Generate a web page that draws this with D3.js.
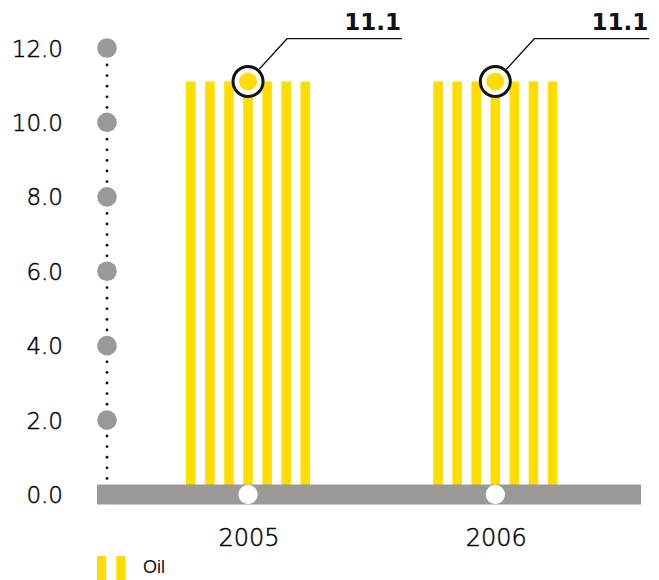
<!DOCTYPE html>
<html>
<head>
<meta charset="utf-8">
<script src="https://cdn.jsdelivr.net/npm/d3@7/dist/d3.min.js"></script>
<style>
  html, body { margin: 0; padding: 0; background: #fff; }
  svg { display: block; }
</style>
</head>
<body>
<div id="chart"></div>
<script>
// Oil figures per year
const years = ["2005", "2006"];
const oilValues = [11.1, 11.1];
const yTicks = [0, 2, 4, 6, 8, 10, 12];
const seriesName = "Oil";

const W = 659, H = 580;
const yellow = "#FFDD00";
const grey = "#9a9997";
const numFont = "'DejaVu Sans', sans-serif";

const svg = d3.select("#chart").append("svg")
  .attr("width", W).attr("height", H);

// Scales
const plotLeft = 97, plotRight = 641;
const y = d3.scaleLinear().domain([0, 12]).range([494.5, 48]);
const x = d3.scalePoint().domain(years).range([plotLeft, plotRight]).padding(0.6).align(0.509);

// Each bar is a set of seven vertical stripes
const stripeCount = 7;
const stripe = d3.scaleBand().domain(d3.range(stripeCount)).range([-62, 62]).paddingInner(0.5);

const bars = svg.append("g").selectAll("g.bar")
  .data(years.map((yr, i) => ({ year: yr, value: oilValues[i] })))
  .join("g").attr("class", "bar")
  .attr("transform", d => `translate(${x(d.year)},0)`);

bars.selectAll("rect")
  .data(d => d3.range(stripeCount).map(k => ({ k, value: d.value })))
  .join("rect")
  .attr("x", d => stripe(d.k))
  .attr("width", stripe.bandwidth())
  .attr("y", d => y(d.value))
  .attr("height", d => y(0) - y(d.value))
  .attr("fill", yellow);

// Baseline band with category markers
svg.append("rect")
  .attr("x", plotLeft).attr("width", plotRight - plotLeft)
  .attr("y", y(0) - 10).attr("height", 20)
  .attr("fill", grey);

svg.append("g").selectAll("circle")
  .data(years).join("circle")
  .attr("cx", d => x(d)).attr("cy", y(0)).attr("r", 9.7)
  .attr("fill", "#fff");

// Thin numerals, darkened with a hairline outline
function lightText(sel, size) {
  return sel.attr("font-family", numFont).attr("font-weight", 200)
    .attr("font-size", size).attr("fill", "#000")
    .attr("stroke", "#000").attr("stroke-width", 0.45);
}

// Category labels
lightText(svg.append("g").selectAll("text")
  .data(years).join("text")
  .attr("x", d => x(d) + 1).attr("y", 546)
  .attr("text-anchor", "middle"), 24)
  .text(d => d);

// Vertical dotted axis with grey tick markers
const axisX = 107;
const dotStep = 10.6;
const dotStart = y(12) + 17 - 2 * dotStep;
svg.append("g").selectAll("circle")
  .data(d3.range(dotStart, y(0) - 14, dotStep)).join("circle")
  .attr("cx", axisX).attr("cy", d => d).attr("r", 1.4)
  .attr("fill", "#111");

svg.append("g").selectAll("circle")
  .data(yTicks.filter(t => t > 0)).join("circle")
  .attr("cx", axisX).attr("cy", d => y(d)).attr("r", 9.8)
  .attr("fill", "#999");

lightText(svg.append("g").selectAll("text")
  .data(yTicks).join("text")
  .attr("x", 63).attr("y", d => y(d) + 8.5)
  .attr("text-anchor", "end"), 23)
  .text(d => d3.format(".1f")(d));

// Value callouts
const callouts = svg.append("g").selectAll("g")
  .data(years.map((yr, i) => ({ year: yr, value: oilValues[i] })))
  .join("g")
  .attr("transform", d => `translate(${x(d.year)},${y(d.value)})`);

callouts.append("path")
  .attr("d", d => {
    const topY = 38.7 - y(d.value);
    const ang = Math.atan2(topY, 39);
    const sx = 16.5 * Math.cos(ang), sy = 16.5 * Math.sin(ang);
    return `M${sx},${sy}L39,${topY}H154`;
  })
  .attr("fill", "none").attr("stroke", "#111").attr("stroke-width", 1.3);

callouts.append("circle").attr("r", 15)
  .attr("fill", "#fff").attr("stroke", "#111").attr("stroke-width", 3);
callouts.append("circle").attr("r", 9).attr("fill", yellow);

callouts.append("text")
  .attr("x", 153).attr("y", d => 29.5 - y(d.value))
  .attr("text-anchor", "end")
  .attr("font-family", numFont).attr("font-weight", "bold")
  .attr("font-size", 23).attr("fill", "#111")
  .text(d => d3.format(".1f")(d.value));

// Legend
const legend = svg.append("g").attr("transform", "translate(97,556)");
legend.selectAll("rect").data([0, 1]).join("rect")
  .attr("x", d => d * 19.3).attr("width", 9.2)
  .attr("y", 0).attr("height", 24)
  .attr("fill", yellow);
legend.append("text")
  .attr("x", 46).attr("y", 17.3)
  .attr("font-family", "'Liberation Sans', Arial, sans-serif")
  .attr("font-size", 18).attr("fill", "#111")
  .text(seriesName);
</script>
</body>
</html>
